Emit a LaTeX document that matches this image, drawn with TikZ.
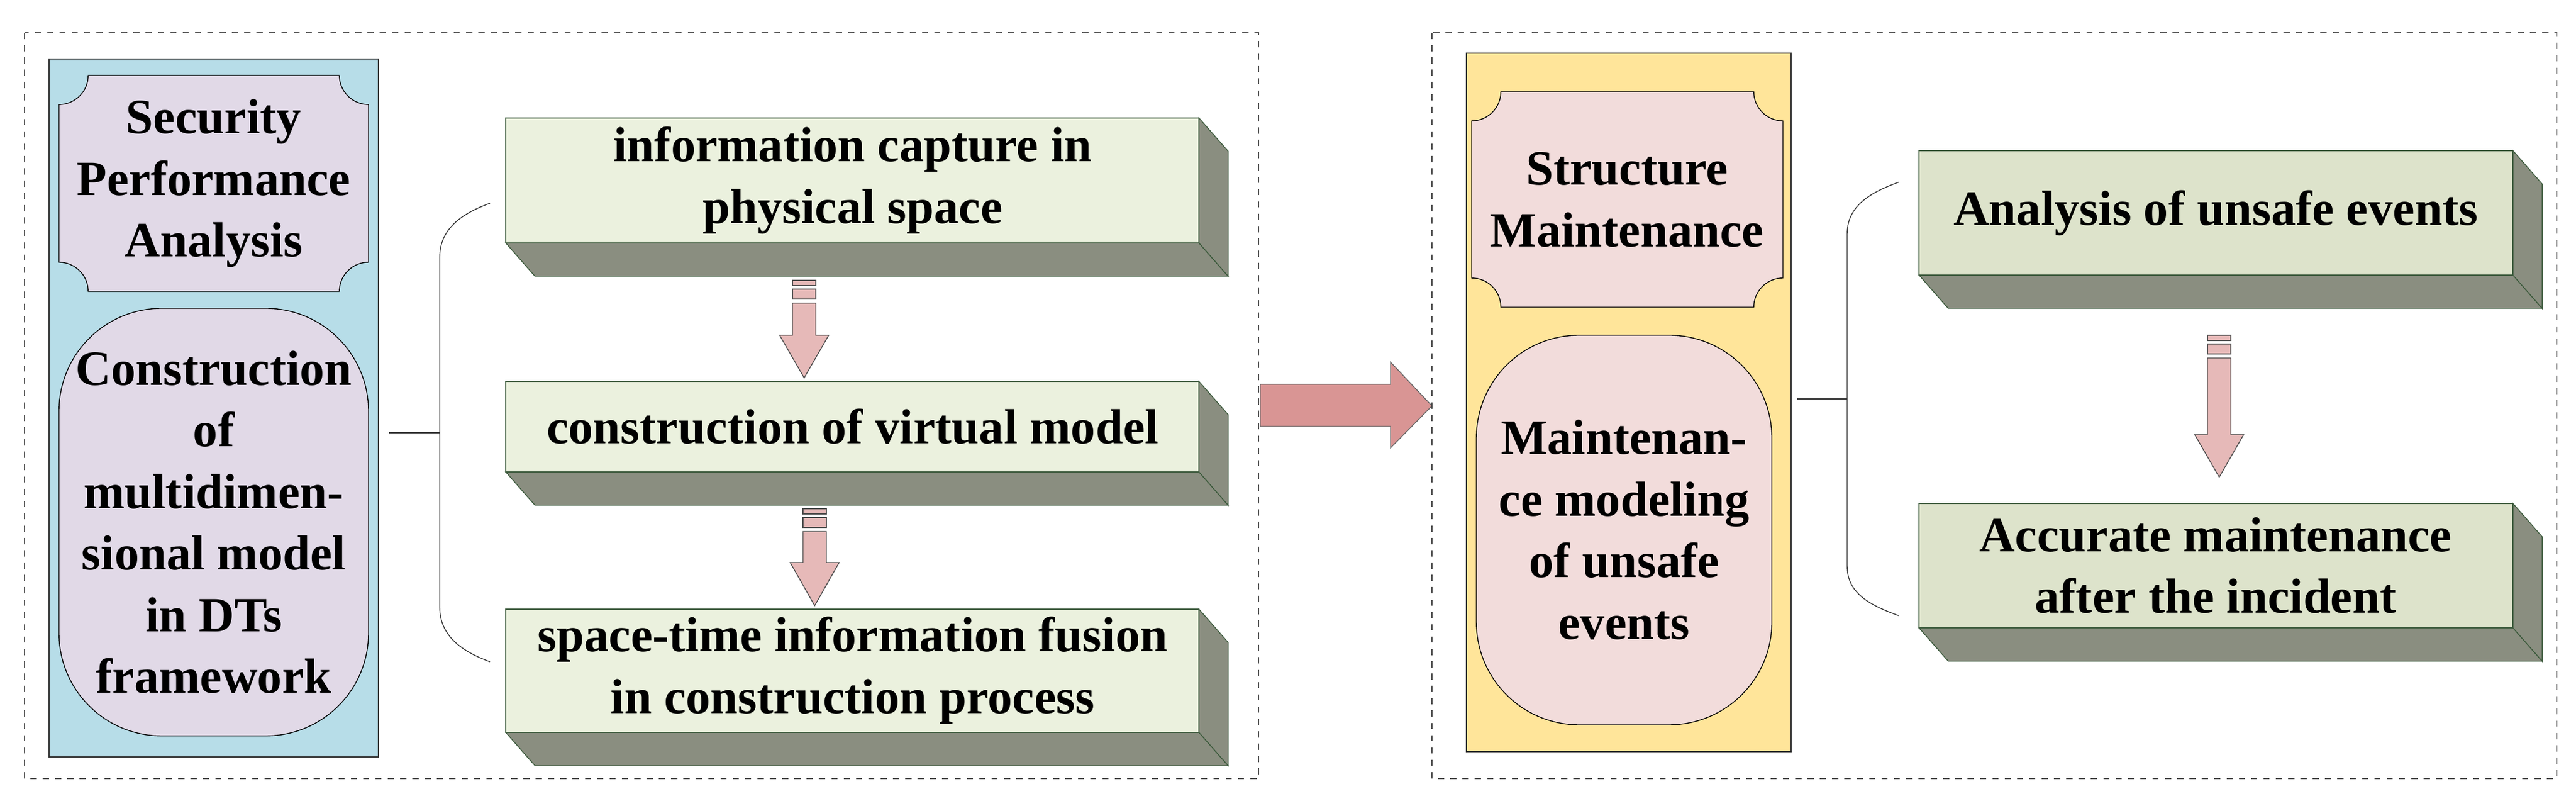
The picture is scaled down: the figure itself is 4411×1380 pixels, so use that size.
\documentclass[tikz,border=0pt]{standalone}
\usepackage{fontspec}
\setmainfont{Liberation Serif}
\definecolor{panelblue}{HTML}{B7DDE8}
\definecolor{panelyellow}{HTML}{FFE59A}
\definecolor{lavender}{HTML}{E1D9E7}
\definecolor{rose}{HTML}{F2DCDB}
\definecolor{slabfront}{HTML}{EBF1DE}
\definecolor{slabfrontb}{HTML}{DDE3CB}
\definecolor{slabside}{HTML}{8A8E80}
\definecolor{slabedge}{HTML}{3D5B3D}
\definecolor{arrowpink}{HTML}{E6B9B8}
\definecolor{arrowred}{HTML}{D99594}

% slab with bottom and right faces: x1,y1,x2,y2,front colour
\newcommand{\slab}[5]{%
  \filldraw[fill=slabside,draw=slabedge,thin] (#1,#4) -- (#3,#4) -- ({#3+50},{#4+57}) -- ({#1+50},{#4+57}) -- cycle;
  \filldraw[fill=slabside,draw=slabedge,thin] (#3,#2) -- ({#3+50},{#2+57}) -- ({#3+50},{#4+57}) -- (#3,#4) -- cycle;
  \filldraw[fill=#5,draw=slabedge,thin] (#1,#2) rectangle (#3,#4);
}
% plaque with concave corners: x1,y1,x2,y2,fill
\newcommand{\plaque}[5]{%
  \filldraw[fill=#5,draw=black,thin] ({#1+50},#2) -- ({#3-50},#2) arc[start angle=180,end angle=90,radius=50]
    -- (#3,{#4-50}) arc[start angle=270,end angle=180,radius=50]
    -- ({#1+50},#4) arc[start angle=0,end angle=-90,radius=50]
    -- (#1,{#2+50}) arc[start angle=90,end angle=0,radius=50] -- cycle;
}
% striped block arrow downwards: x centre, y top, y head, y tip
\newcommand{\stripearrow}[4]{%
  \filldraw[fill=arrowpink,draw=black!70,thin] ({#1-20},#2) rectangle ({#1+20},{#2+9});
  \filldraw[fill=arrowpink,draw=black!70,thin] ({#1-20},{#2+15}) rectangle ({#1+20},{#2+32});
  \filldraw[fill=arrowpink,draw=black!70,thin] ({#1-20},{#2+39}) -- ({#1-20},#3) -- ({#1-42},#3)
    -- (#1,#4) -- ({#1+42},#3) -- ({#1+20},#3) -- ({#1+20},{#2+39}) -- cycle;
}

\begin{document}
\begin{tikzpicture}[x=0.01cm,y=-0.01cm,
    txt/.style={font=\bfseries\fontsize{24}{30}\selectfont,align=center},
    frame/.style={draw=black!70,dashed,thin},
    brace/.style={draw=black!80,thin}]
  \useasboundingbox (0,0) rectangle (4411,1380);

  % left group
  \draw[frame] (42,56) rectangle (2155,1333);
  \filldraw[fill=panelblue,draw=black!80,thin] (84,101) rectangle (648,1296);
  \plaque{101}{129}{631}{499}{lavender}
  \filldraw[fill=lavender,draw=black,thin,rounded corners=50] (101,528) rectangle (631,1260);
  \node[txt] (secperf) at (366,314) {Security\\Performance\\Analysis};
  \node[txt] (multimodel) at (366,894) {Construction\\of\\multidimen-\\sional model\\in DTs\\framework};

  \slab{866}{202}{2053}{416}{slabfront}
  \slab{866}{653}{2053}{808}{slabfront}
  \slab{866}{1043}{2053}{1254}{slabfront}
  \node[txt] (capture) at (1460,309) {information capture in\\physical space};
  \node[txt] (virtual) at (1460,730) {construction of virtual model};
  \node[txt] (fusion) at (1460,1148) {space-time information fusion\\in construction process};

  \stripearrow{1377}{480}{574}{647}
  \stripearrow{1395}{871}{963}{1037}

  \coordinate (lbrace) at (753,741);
  \draw[brace] (666,741) -- (lbrace);
  \draw[brace] (839,348) to[out=200,in=90] (753,440) -- (753,1040) to[out=-90,in=160] (839,1133);

  % link arrow
  \filldraw[fill=arrowred,draw=black!60,thin] (2158,658) -- (2381,658) -- (2381,620) -- (2452,695)
    -- (2381,767) -- (2381,730) -- (2158,730) -- cycle;

  % right group
  \draw[frame] (2452,56) rectangle (4378,1333);
  \filldraw[fill=panelyellow,draw=black!80,thin] (2511,91) rectangle (3067,1287);
  \plaque{2520}{157}{3053}{526}{rose}
  \filldraw[fill=rose,draw=black,thin,rounded corners=50] (2528,574) rectangle (3034,1241);
  \node[txt] (structmaint) at (2786,342) {Structure\\Maintenance};
  \node[txt] (maintmodel) at (2781,907) {Maintenan-\\ce modeling\\of unsafe\\events};

  \slab{3286}{258}{4303}{471}{slabfrontb}
  \slab{3286}{862}{4303}{1075}{slabfrontb}
  \node[txt] (unsafe) at (3794,365) {Analysis of unsafe events};
  \node[txt] (accurate) at (3794,968) {Accurate maintenance\\after the incident};

  \stripearrow{3800}{574}{744}{817}

  \coordinate (rbrace) at (3163,683);
  \draw[brace] (3077,683) -- (rbrace);
  \draw[brace] (3251,312) to[out=200,in=90] (3163,400) -- (3163,970) to[out=-90,in=160] (3251,1054);
\end{tikzpicture}
\end{document}
